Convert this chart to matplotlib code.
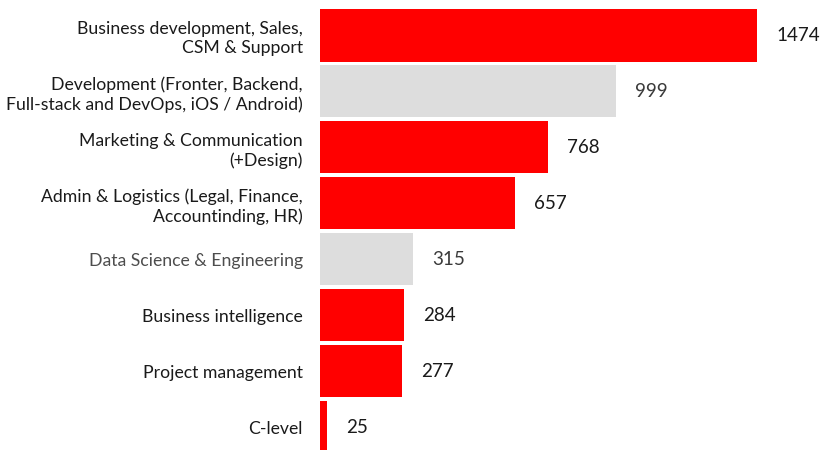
import matplotlib
matplotlib.use("Agg")
import matplotlib.pyplot as plt

categories = [
    "Business development, Sales,\nCSM & Support",
    "Development (Fronter, Backend,\nFull-stack and DevOps, iOS / Android)",
    "Marketing & Communication\n(+Design)",
    "Admin & Logistics (Legal, Finance,\nAccountinding, HR)",
    "Data Science & Engineering",
    "Business intelligence",
    "Project management",
    "C-level",
]
values = [1474, 999, 768, 657, 315, 284, 277, 25]
highlight = [True, False, True, True, False, True, True, True]
label_muted = [False, False, False, False, True, False, False, False]

RED = "#FF0000"
GREY = "#DDDDDD"
DARK = "#1a1a1a"
MUTED = "#4d4d4d"
VAL_MUTED = "#3a3a3a"

plt.rcParams['font.family'] = ['Lato', 'DejaVu Sans']

fig = plt.figure(figsize=(8.23, 4.5), dpi=100)
ax = fig.add_axes([320/823, 0, 503/823, 1])

ypos = list(range(len(values)))
colors = [RED if h else GREY for h in highlight]
ax.barh(ypos, values, height=0.93, color=colors, edgecolor='none')

xmax = 503 / (437 / 1474)
ax.set_xlim(0, xmax)
ax.set_ylim(7 + 23/55.93, -35.5/55.93)

ax.set_yticks(ypos)
ax.set_yticklabels(categories, fontsize=12.7, linespacing=1.25)
for lbl, m in zip(ax.get_yticklabels(), label_muted):
    lbl.set_color(MUTED if m else DARK)
ax.tick_params(axis='y', length=0, pad=12.5)
ax.set_xticks([])
for s in ax.spines.values():
    s.set_visible(False)

off = 19 / (437 / 1474)
for y, v, h in zip(ypos, values, highlight):
    ax.text(v + off, y, str(v), va='center', ha='left', fontsize=13.5,
            color=DARK if h else VAL_MUTED)

fig.savefig("out.png", dpi=100)
